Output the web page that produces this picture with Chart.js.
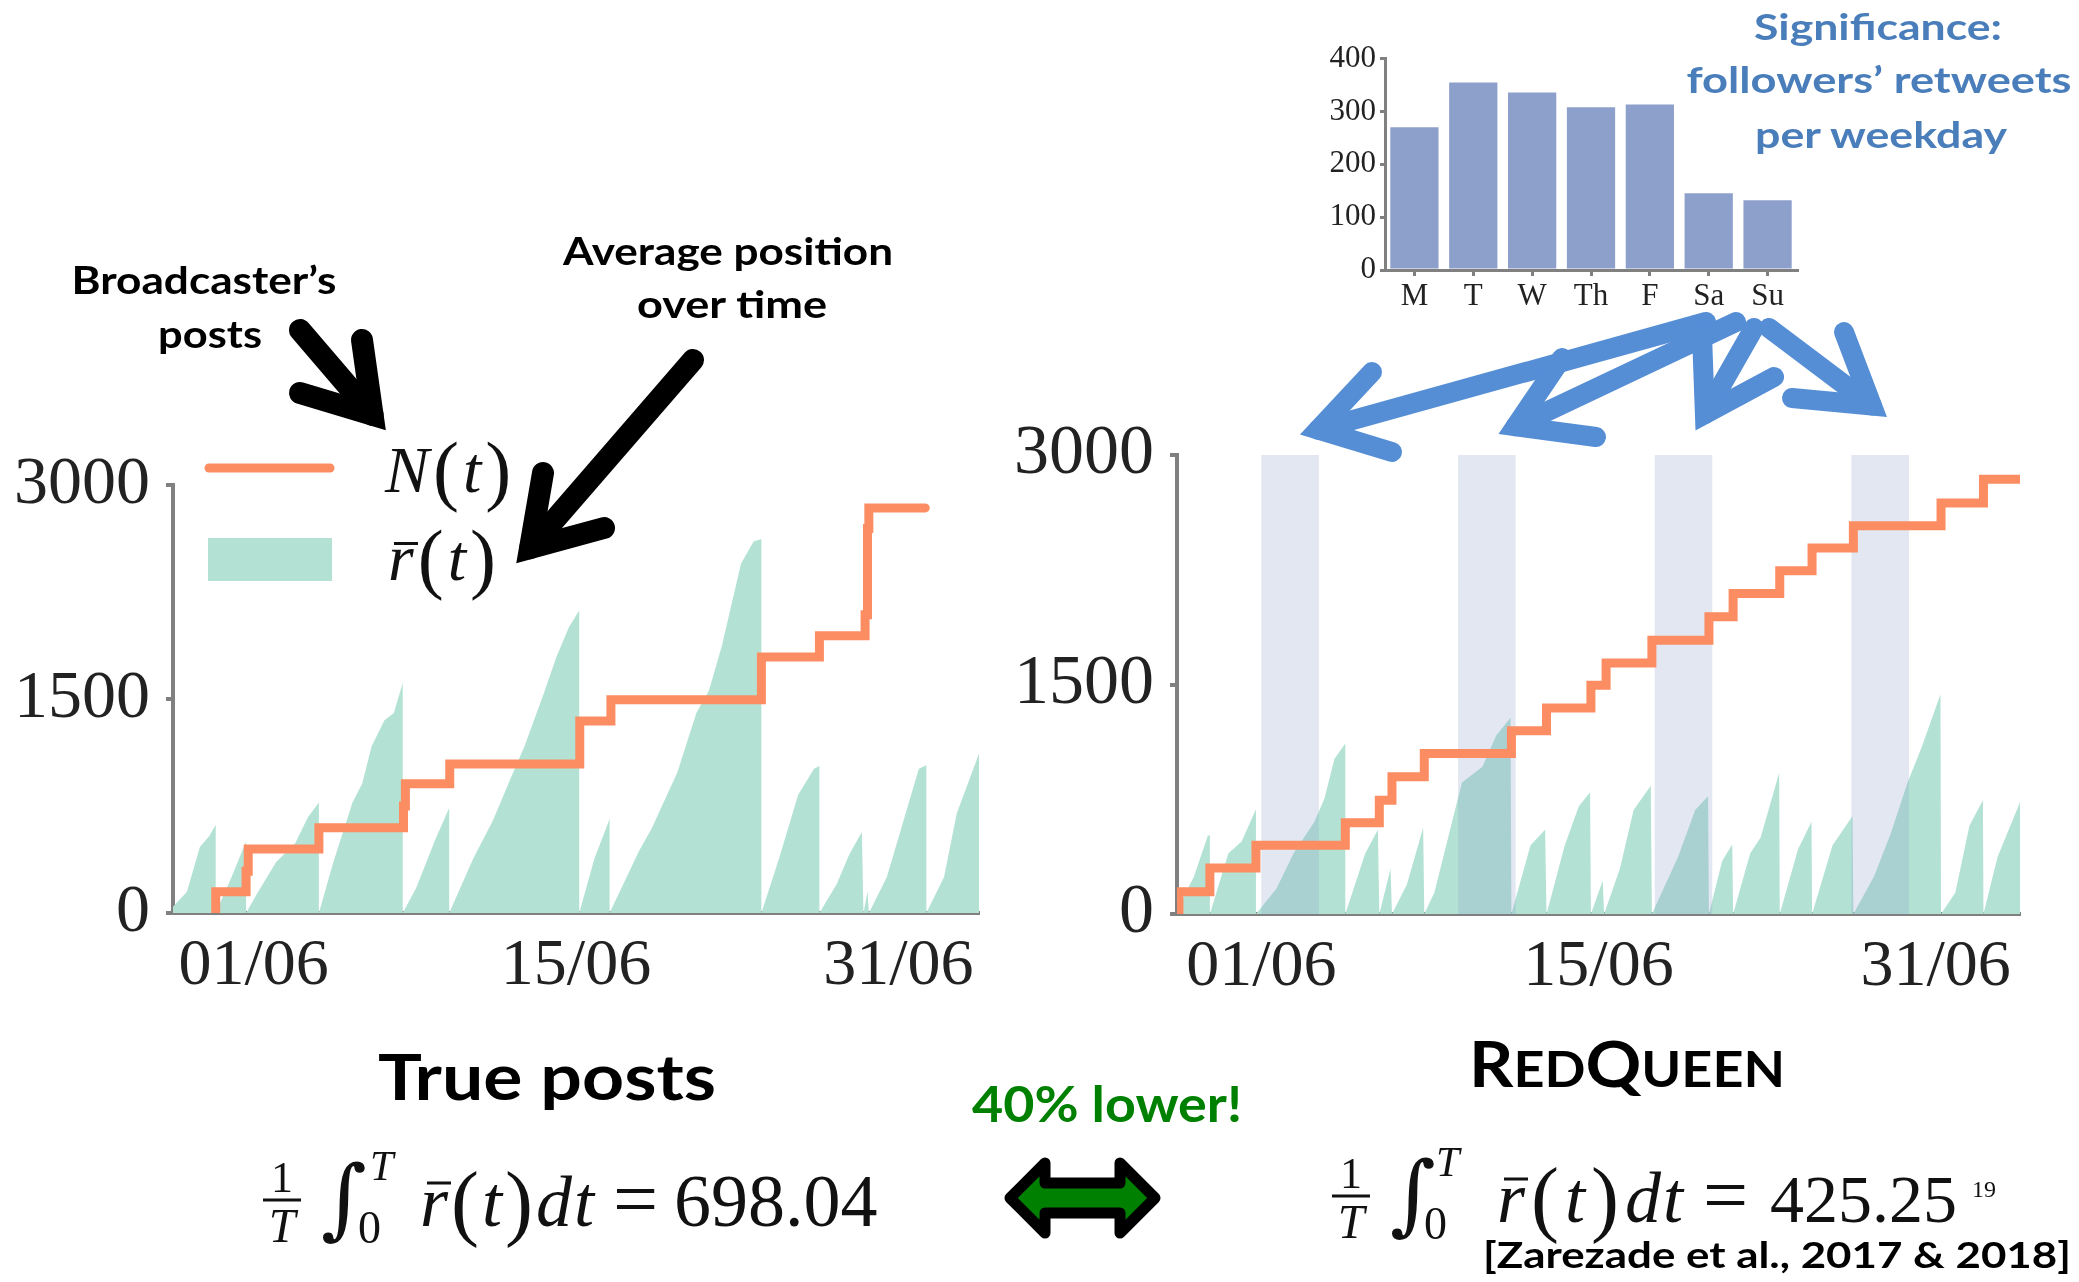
<!DOCTYPE html>
<html>
<head>
<meta charset="utf-8">
<script src="https://cdn.jsdelivr.net/npm/chart.js@4.4.0/dist/chart.umd.min.js"></script>
<style>
  html, body { margin: 0; padding: 0; background: #fff; }
  #page { position: relative; width: 2079px; height: 1282px; overflow: hidden; background: #fff; }
  canvas { position: absolute; }
  #overlay { position: absolute; left: 0; top: 0; }
  #overlay .m { font-family: 'Liberation Serif', 'DejaVu Serif', serif; fill: #111; }
  #overlay .it { font-style: italic; }
</style>
</head>
<body>
<div id="page">
  <canvas id="leftChart" width="991" height="575" style="left:0px;top:428px"></canvas>
  <canvas id="rightChart" width="1032" height="607" style="left:1000px;top:397px"></canvas>
  <canvas id="barChart" width="502" height="284" style="left:1305px;top:36px"></canvas>
  <svg id="overlay" width="2079" height="1282"></svg>
</div>
<script>
// ---- data (x in days, 0..30) ----
const dateTicks = [3, 15, 27];
const dateLabels = ['01/06', '15/06', '31/06'];
const countTicks = [0, 1500, 3000];

// broadcaster's true posts, N(t)
const leftPostT = [1.59, 1.59, 2.72, 2.80, 5.43, 8.58, 8.65, 10.3, 15.14, 16.3, 21.9, 24.06, 25.76, 25.85, 25.9, 28.0];
const leftPostN = [0, 149, 292, 449, 598, 749, 906, 1044, 1345, 1494, 1794, 1943, 2089, 2694, 2838, 2838];

// average position r(t) for true posts
const leftRateT = [0, 0.52, 1.0, 1.35, 1.59, 1.59, 2.18, 2.72, 2.72, 3.13, 3.84, 4.55, 5.02, 5.43, 5.43,
  5.97, 6.68, 7.04, 7.39, 7.87, 8.22, 8.55, 8.55, 9.05, 9.76, 10.28, 10.28, 11.18, 11.9, 12.6, 13.08,
  13.79, 14.27, 14.74, 15.12, 15.12, 15.69, 16.25, 16.25, 17.35, 17.82, 18.77, 19.48, 19.95, 20.43,
  21.14, 21.61, 21.9, 21.9, 22.56, 23.27, 23.86, 24.06, 24.06, 24.7, 25.17, 25.64, 25.7, 25.85, 25.9,
  26.57, 27.27, 27.76, 28.04, 28.04, 28.7, 29.17, 30];
const leftRateV = [44, 149, 462, 540, 619, 0, 253, 501, 0, 136, 358, 488, 671, 775, 0,
  358, 775, 906, 1167, 1350, 1402, 1611, 0, 175, 514, 736, 0, 384, 645, 958, 1167,
  1533, 1794, 2003, 2120, 0, 384, 658, 0, 436, 593, 984, 1402, 1559, 1872,
  2447, 2603, 2620, 0, 384, 828, 1010, 1030, 0, 201, 410, 567, 0, 149, 0,
  253, 697, 1010, 1036, 0, 253, 697, 1115];

// RedQueen posts
const rightPostT = [0.07, 0.07, 1.17, 2.81, 5.99, 7.2, 7.65, 8.8, 11.9, 13.15, 14.73, 15.27, 16.9, 18.93,
  19.79, 21.45, 22.6, 24.07, 27.19, 28.7, 30];
const rightPostN = [0, 146, 300, 449, 597, 743, 897, 1049, 1197, 1346, 1495, 1641, 1790, 1943,
  2095, 2243, 2392, 2538, 2687, 2841, 2841];

const rightRateT = [0, 0.07, 0.6, 1.1, 1.17, 1.17, 1.83, 2.3, 2.81, 2.81, 3.54, 4.15, 4.89, 5.25, 5.6, 5.99, 5.99,
  6.7, 7.15, 7.2, 7.6, 7.65, 8.18, 8.76, 8.8, 9.16, 9.65, 10.14, 10.87, 11.36, 11.87, 11.9,
  12.58, 13.1, 13.15, 13.8, 14.3, 14.7, 14.73, 15.15, 15.2, 15.76, 16.25, 16.86, 16.9,
  17.83, 18.44, 18.9, 18.93, 19.4, 19.76, 19.79, 20.4, 20.77, 21.43, 21.45, 22.1, 22.58, 22.6,
  23.33, 24.04, 24.07, 24.8, 25.4, 26.0, 26.5, 27.17, 27.19, 27.7, 28.2, 28.68, 28.7, 29.2, 30];
const rightRateV = [0, 50, 244, 513, 513, 0, 397, 474, 685, 0, 167, 397, 603, 756, 1013, 1115, 0,
  397, 551, 0, 295, 0, 192, 564, 0, 141, 500, 859, 962, 1167, 1282, 0,
  449, 551, 0, 449, 705, 795, 0, 218, 0, 295, 680, 838, 0,
  372, 680, 769, 0, 346, 454, 0, 397, 500, 923, 0, 423, 603, 0,
  449, 641, 0, 244, 526, 859, 1090, 1436, 0, 141, 577, 744, 0, 372, 731];

// weekends highlighted in the RedQueen panel
const weekendStart = [3, 10, 17, 24];
const weekendEnd = [5.05, 12.05, 19.05, 26.05];

// inset: followers' retweets per weekday
const weekdays = ['M', 'T', 'W', 'Th', 'F', 'Sa', 'Su'];
const weekdayRetweets = [270, 355, 336, 308, 313, 145, 132];

const ORANGE = '#fc8d62';
const GREEN = '#b3e2d5';
const AXIS = '#808080';
const SERIF = "'Liberation Serif', 'DejaVu Serif', serif";

function pts(xs, ys) {
  return xs.map((x, i) => ({ x: x, y: ys[i] }));
}

// shaded weekend columns, drawn over the area but under the N(t) line
const weekendBands = {
  id: 'weekendBands',
  afterDatasetDraw(chart, args) {
    if (args.index !== 1) return;
    const { ctx, scales: { x, y } } = chart;
    ctx.save();
    ctx.fillStyle = 'rgba(141,160,203,0.25)';
    const top = y.getPixelForValue(3000), bottom = y.getPixelForValue(0);
    for (let i = 0; i < weekendStart.length; i++) {
      const x0 = x.getPixelForValue(weekendStart[i]);
      const x1 = x.getPixelForValue(weekendEnd[i]);
      ctx.fillRect(x0, top, x1 - x0, bottom - top);
    }
    ctx.restore();
  }
};

// legend inside the left panel, with math-style labels
const mathLegend = {
  id: 'mathLegend',
  afterDraw(chart) {
    const ctx = chart.ctx;
    ctx.save();
    ctx.strokeStyle = ORANGE;
    ctx.lineWidth = 9;
    ctx.lineCap = 'round';
    ctx.beginPath();
    ctx.moveTo(209, 40);
    ctx.lineTo(330, 40);
    ctx.stroke();
    ctx.fillStyle = GREEN;
    ctx.fillRect(208, 110, 124, 43);

    ctx.fillStyle = '#111';
    ctx.textBaseline = 'alphabetic';
    let x = 385;
    const put = (s, italic, y, size) => {
      ctx.font = (italic ? 'italic ' : '') + size + 'px ' + SERIF;
      ctx.fillText(s, x, y);
      x += ctx.measureText(s).width + 4;
    };
    put('N', true, 64, 66); put('(', false, 68, 78); put('t', true, 64, 66); put(')', false, 68, 78);
    x = 388;
    const rx = x;
    put('r', true, 152, 66);
    ctx.fillRect(rx + 6, 114, 24, 3);
    put('(', false, 156, 78); put('t', true, 152, 66); put(')', false, 156, 78);
    ctx.restore();
  }
};

function panelOptions(yWidth, tickSize) {
  return {
    responsive: false,
    animation: false,
    layout: { padding: { top: 50, right: 12, left: 0, bottom: 0 } },
    plugins: { legend: { display: false }, tooltip: { enabled: false } },
    scales: {
      x: {
        type: 'linear', min: 0, max: 30, z: 1,
        afterBuildTicks: s => { s.ticks = dateTicks.map(v => ({ value: v })); },
        ticks: { callback: (v, i) => dateLabels[i], font: { family: SERIF, size: 66 }, color: '#222', padding: 14, maxRotation: 0 },
        grid: { display: false, drawTicks: false },
        border: { display: true, color: AXIS, width: 4 },
        afterFit: s => { s.height = 90; }
      },
      y: {
        min: 0, max: 3000, z: 1,
        afterBuildTicks: s => { s.ticks = countTicks.map(v => ({ value: v })); },
        ticks: { callback: v => String(v), font: { family: SERIF, size: tickSize }, color: '#222', padding: 16 },
        grid: { drawOnChartArea: false, drawTicks: true, tickLength: 7, color: AXIS, lineWidth: 4 },
        border: { display: true, color: AXIS, width: 4 },
        afterFit: s => { s.width = yWidth; }
      }
    }
  };
}

function panelData(postT, postN, rateT, rateV) {
  return {
    datasets: [
      {
        label: 'N(t)', data: pts(postT, postN), stepped: 'before',
        borderColor: ORANGE, borderWidth: 9, borderCapStyle: 'round', borderJoinStyle: 'miter',
        pointRadius: 0, fill: false
      },
      {
        label: 'r(t)', data: pts(rateT, rateV), tension: 0,
        borderWidth: 0, backgroundColor: GREEN, pointRadius: 0, fill: 'origin'
      }
    ]
  };
}

new Chart(document.getElementById('leftChart'), {
  type: 'line',
  data: panelData(leftPostT, leftPostN, leftRateT, leftRateV),
  options: panelOptions(173, 68),
  plugins: [mathLegend]
});

new Chart(document.getElementById('rightChart'), {
  type: 'line',
  data: panelData(rightPostT, rightPostN, rightRateT, rightRateV),
  options: panelOptions(177, 70),
  plugins: [weekendBands]
});

new Chart(document.getElementById('barChart'), {
  type: 'bar',
  data: {
    labels: weekdays,
    datasets: [{ data: weekdayRetweets, backgroundColor: '#8da0cb', barPercentage: 0.82, categoryPercentage: 1 }]
  },
  options: {
    responsive: false,
    animation: false,
    layout: { padding: { top: 20, right: 10, left: 0, bottom: 0 } },
    plugins: { legend: { display: false }, tooltip: { enabled: false } },
    scales: {
      x: {
        z: 1,
        ticks: { font: { family: SERIF, size: 31 }, color: '#222', padding: 2 },
        grid: { offset: false, drawOnChartArea: false, tickLength: 6, color: AXIS, lineWidth: 3 },
        border: { display: true, color: AXIS, width: 3 },
        afterFit: s => { s.height = 50; }
      },
      y: {
        min: 0, max: 400, z: 1,
        ticks: { stepSize: 100, font: { family: SERIF, size: 31 }, color: '#222', padding: 4 },
        grid: { drawOnChartArea: false, tickLength: 5, color: AXIS, lineWidth: 3 },
        border: { display: true, color: AXIS, width: 3 },
        afterFit: s => { s.width = 80; }
      }
    }
  }
});

// ---- annotations: arrows, captions, formulas ----
function arrow(tail, tip, armA, armB, w, color) {
  const ax = armA[0] - tip[0], ay = armA[1] - tip[1];
  const bx = armB[0] - tip[0], by = armB[1] - tip[1];
  const la = Math.hypot(ax, ay), lb = Math.hypot(bx, by);
  const ux = ax / la + bx / lb, uy = ay / la + by / lb, lu = Math.hypot(ux, uy);
  const half = Math.acos((ax * bx + ay * by) / (la * lb)) / 2;
  const back = (w / 2) / Math.sin(half);
  const vx = tip[0] + ux / lu * back, vy = tip[1] + uy / lu * back;
  return `<g stroke="${color}" stroke-width="${w}" fill="none" stroke-linecap="round">
    <line x1="${tail[0]}" y1="${tail[1]}" x2="${vx}" y2="${vy}"/>
    <polyline points="${armA[0]},${armA[1]} ${vx},${vy} ${armB[0]},${armB[1]}" stroke-linejoin="miter" stroke-miterlimit="20"/>
  </g>`;
}

// one displayed formula; o = horizontal offsets of its pieces from the fraction
function formula(ox, by, value, o) {
  const g = o.gap;
  return `
  <text class="m" x="${ox + 19}" y="${by - 34}" font-size="44" text-anchor="middle">1</text>
  <line x1="${ox}" y1="${by - 26}" x2="${ox + 38}" y2="${by - 26}" stroke="#111" stroke-width="3"/>
  <text class="m it" x="${ox + 19}" y="${by + 16}" font-size="48" text-anchor="middle">T</text>
  <text x="${ox + 58}" y="${by + 2}" font-size="88" style="font-family:'DejaVu Serif'" fill="#111">∫</text>
  <text class="m it" x="${ox + o.sup}" y="${by - 46}" font-size="42">T</text>
  <text class="m" x="${ox + o.sup - 12}" y="${by + 17}" font-size="46">0</text>
  <text class="m" x="${ox + o.r}" y="${by}" font-size="72"><tspan class="it">r</tspan><tspan dx="${g}" font-size="84" dy="4">(</tspan><tspan class="it" dx="${g}" dy="-4">t</tspan><tspan dx="${g}" font-size="84" dy="4">)</tspan><tspan class="it" dx="${g}" dy="-4">d</tspan><tspan class="it" dx="2">t</tspan></text>
  <line x1="${ox + o.r + 7}" y1="${by - 43}" x2="${ox + o.r + 31}" y2="${by - 43}" stroke="#111" stroke-width="3"/>
  <text class="m" x="${ox + o.eq}" y="${by}" font-size="80">=</text>
  <text class="m" x="${ox + o.num}" y="${by}" font-size="${o.size}">${value}</text>`;
}

const sans = 'font-family="Lato, Open Sans, sans-serif" font-weight="700" text-anchor="middle" lengthAdjust="spacingAndGlyphs"';
function caption(text, cx, y, size, width, color) {
  return `<text x="${cx}" y="${y}" font-size="${size}" textLength="${width}" ${sans} fill="${color}">${text}</text>`;
}

let svg = '';
svg += arrow([300, 330], [390, 435], [362, 340], [300, 393], 22, '#000');
svg += arrow([693, 360], [512, 568], [543, 473], [604, 528], 22, '#000');
svg += arrow([1706, 322], [1295, 436], [1372, 372], [1392, 452], 20, '#558ed5');
svg += arrow([1736, 322], [1494, 436], [1562, 358], [1596, 437], 20, '#558ed5');
svg += arrow([1754, 328], [1693, 435], [1702, 335], [1774, 377], 20, '#558ed5');
svg += arrow([1769, 328], [1891, 420], [1844, 332], [1792, 398], 20, '#558ed5');

svg += caption('Broadcaster’s', 204, 294, 38, 265, '#000');
svg += caption('posts', 210, 348, 38, 104, '#000');
svg += caption('Average position', 728, 265, 38, 330, '#000');
svg += caption('over time', 732, 318, 38, 190, '#000');
svg += caption('Significance:', 1878, 40, 36, 248, '#4a7ebb');
svg += caption('followers’ retweets', 1879, 93, 36, 385, '#4a7ebb');
svg += caption('per weekday', 1881, 148, 36, 252, '#4a7ebb');
svg += caption('True posts', 547, 1100, 64, 338, '#000');
svg += `<text x="1627" y="1087" textLength="316" ${sans} fill="#000"><tspan font-size="64">R</tspan><tspan font-size="50">ED</tspan><tspan font-size="64">Q</tspan><tspan font-size="50">UEEN</tspan></text>`;
svg += caption('40% lower!', 1107, 1122, 50, 270, '#008000');
svg += caption('[Zarezade et al., 2017 &amp; 2018]', 1777, 1268, 36, 588, '#000');

svg += `<polygon points="1010,1198 1045,1163 1045,1183 1120,1183 1120,1163 1155,1198 1120,1233 1120,1213 1045,1213 1045,1233"
  fill="#008000" stroke="#000" stroke-width="11" stroke-linejoin="round"/>`;

svg += formula(263, 1226, '698.04', { sup: 107, r: 157, gap: 3, eq: 350, num: 411, size: 74 });
svg += formula(1332, 1222, '425.25', { sup: 104, r: 165, gap: 6, eq: 371, num: 438, size: 68 });
svg += `<text class="m" x="1972" y="1197" font-size="24">19</text>`;

document.getElementById('overlay').innerHTML = svg;
</script>
</body>
</html>
